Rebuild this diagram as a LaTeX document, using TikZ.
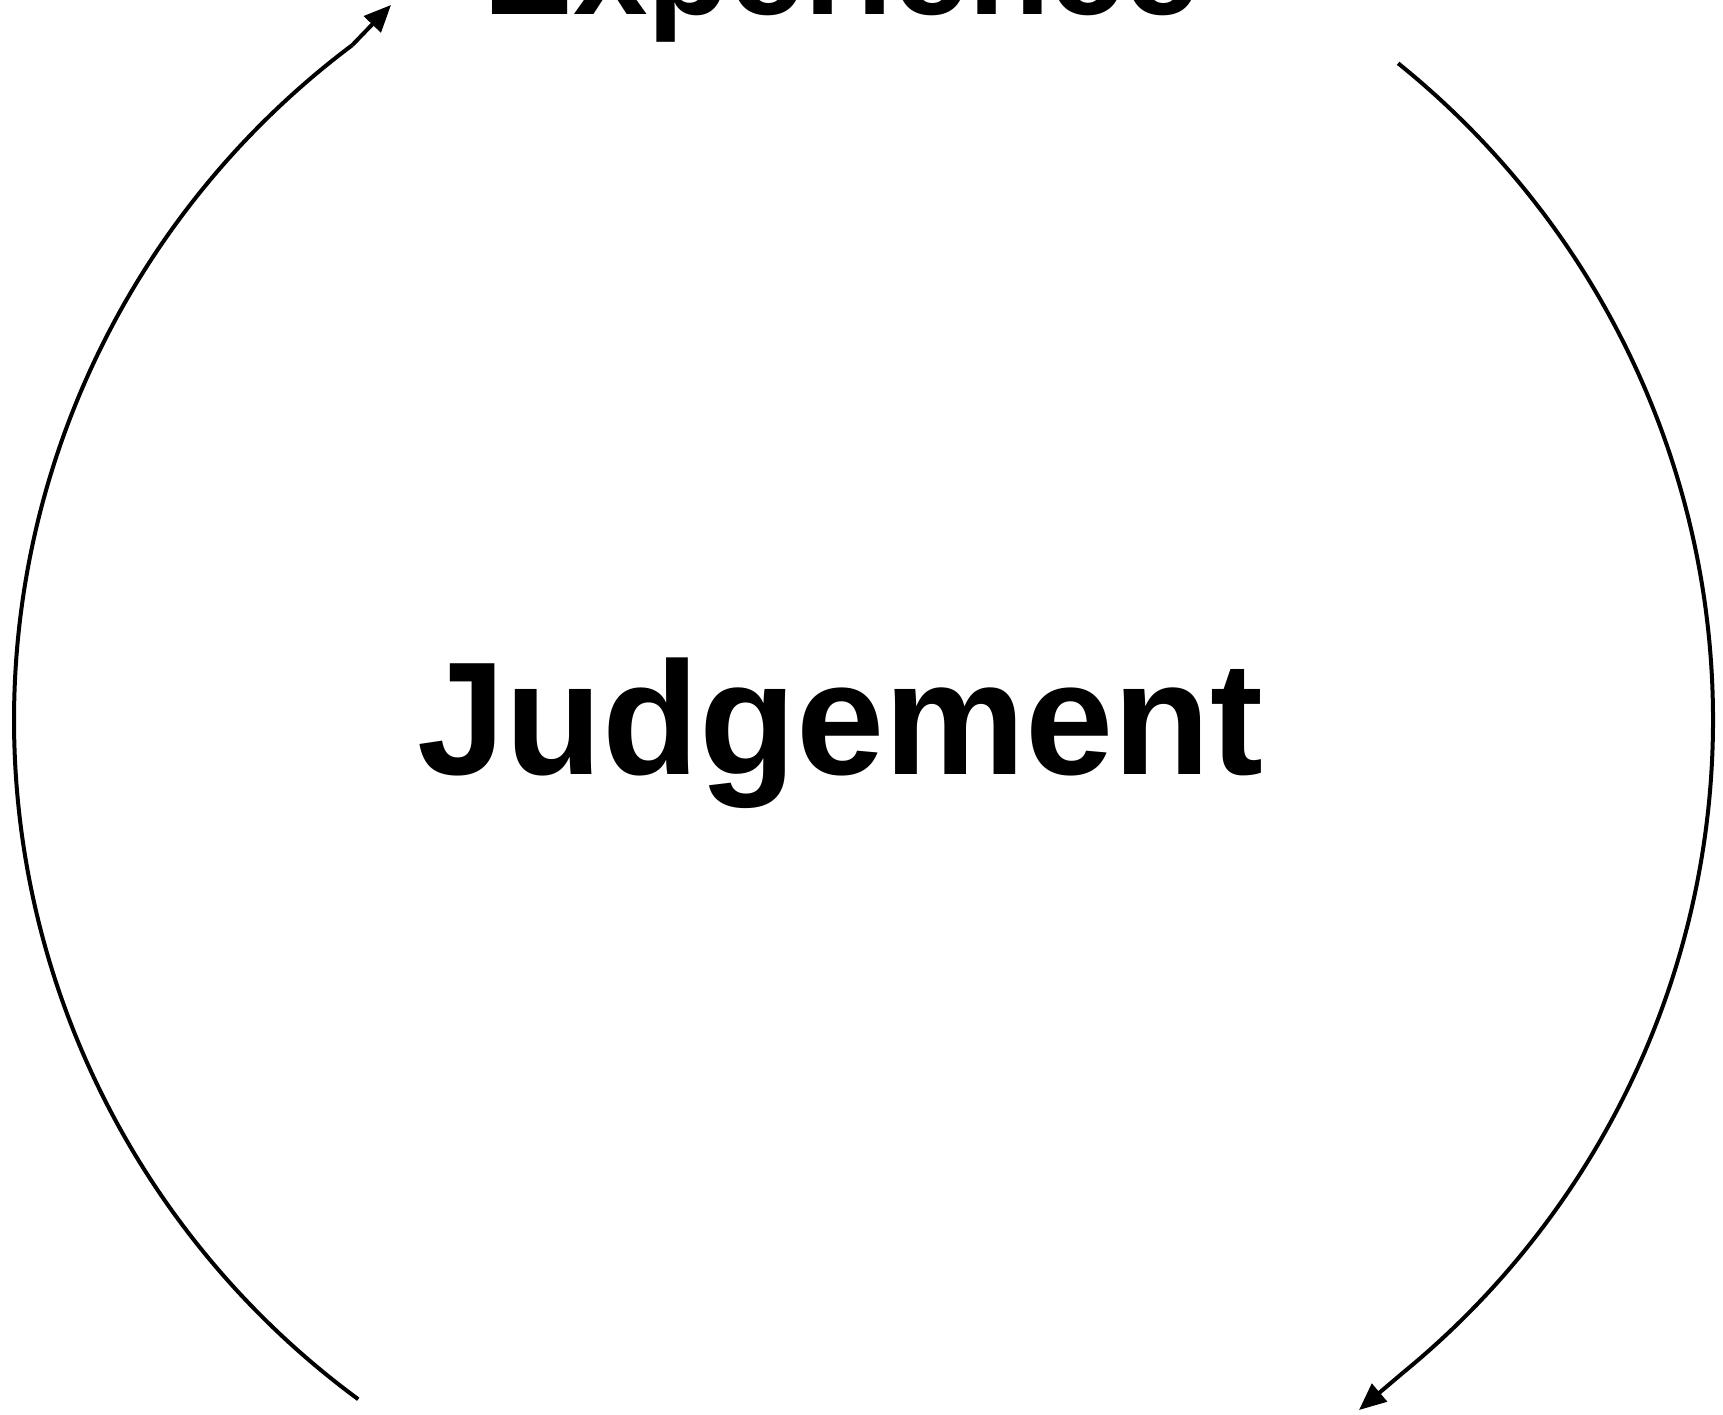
\documentclass[tikz,border=0pt]{standalone}
\usepackage{fontspec}
\setmainfont{Liberation Sans}
\usetikzlibrary{arrows.meta}
\begin{document}
\begin{tikzpicture}[x=1pt,y=1pt,
  lbl/.style={inner sep=0pt, anchor=base, font=\bfseries},
  cycarrow/.style={line width=4pt, -{Triangle[length=27pt,width=23pt]}},
  cycline/.style={line width=4pt}]
\useasboundingbox (0,0) rectangle (1723,1414);
\coordinate (ctr) at (863.5,694);
\node[lbl, font=\bfseries\fontsize{161}{161}\selectfont, xscale=0.985] (judg) at (840.5,639) {Judgement};
\node[lbl, font=\bfseries\fontsize{134}{134}\selectfont] (exper) at (841.5,1399) {Experience};
% left arc going up, arrow to top-left
\coordinate (tipL) at (391,1409);
\draw[cycline] ([shift={(233.5:849.5 and 845)}]ctr) arc[start angle=233.5, end angle=127, x radius=849.5, y radius=845] coordinate (endL);
\draw[cycarrow] (endL) -- (tipL);
% right arc going down, arrow to bottom-right
\coordinate (tipR) at (1359,4);
\draw[cycline] ([shift={(51:849.5 and 845)}]ctr) arc[start angle=51, end angle=-50.5, x radius=849.5, y radius=845] coordinate (endR);
\draw[cycarrow] (endR) -- (tipR);
\end{tikzpicture}
\end{document}
